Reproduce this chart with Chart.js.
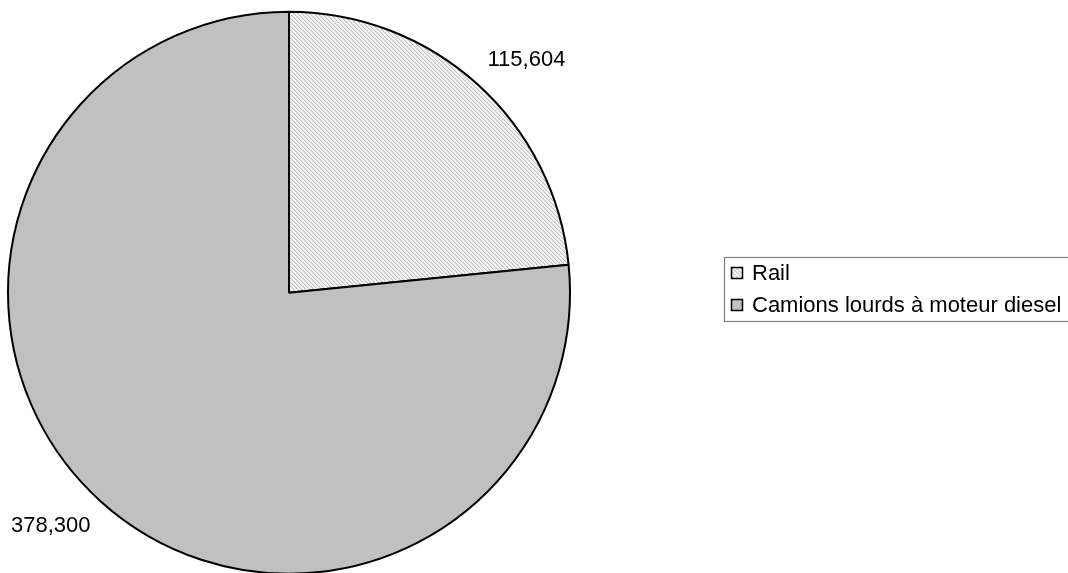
<!DOCTYPE html>
<html>
<head>
<meta charset="utf-8">
<script src="https://cdn.jsdelivr.net/npm/chart.js@4"></script>
<style>
  html, body { margin: 0; padding: 0; background: #fff; overflow: hidden; }
  #wrap { position: relative; width: 1068px; height: 600px; }
</style>
</head>
<body>
<div id="wrap"><canvas id="pieChart"></canvas></div>
<script>
const labels = ["Rail", "Camions lourds à moteur diesel"];
const values = [115604, 378300];
const valueLabels = ["115,604", "378,300"];

const FONT = "22px 'Liberation Sans', Arial, sans-serif";

// Excel style diagonal dither fill for the Rail slice
function makeHatch() {
  const c = document.createElement("canvas");
  c.width = 4;
  c.height = 4;
  const ctx = c.getContext("2d");
  for (let x = 0; x < 4; x++) {
    for (let y = 0; y < 4; y++) {
      const k = ((x - y) % 4 + 4) % 4;
      ctx.fillStyle = k === 0 ? "#c4c4c4" : k === 1 ? "#e4e4e4" : "#f6f6f6";
      ctx.fillRect(x, y, 1, 1);
    }
  }
  return c.getContext("2d").createPattern(c, "repeat");
}

const hatch = makeHatch();
const fills = [hatch, "#c0c0c0"];

const sliceLabels = {
  id: "sliceLabels",
  afterDatasetsDraw(chart) {
    const ctx = chart.ctx;
    const meta = chart.getDatasetMeta(0);
    ctx.save();
    ctx.font = FONT;
    ctx.fillStyle = "#000";
    ctx.textBaseline = "middle";
    meta.data.forEach((arc, i) => {
      const mid = (arc.startAngle + arc.endAngle) / 2;
      const ex = arc.x + Math.cos(mid) * arc.outerRadius;
      const ey = arc.y + Math.sin(mid) * arc.outerRadius;
      const right = Math.cos(mid) >= 0;
      const down = Math.sin(mid) >= 0;
      ctx.textAlign = right ? "left" : "right";
      ctx.fillText(valueLabels[i], ex + (right ? 10 : -10), ey + (down ? 25 : -24));
    });
    ctx.restore();
  }
};

const boxLegend = {
  id: "boxLegend",
  afterDraw(chart) {
    const ctx = chart.ctx;
    ctx.save();
    ctx.strokeStyle = "#808080";
    ctx.lineWidth = 1.2;
    ctx.strokeRect(724.5, 257.5, 400, 64);
    ctx.font = FONT;
    ctx.textAlign = "left";
    ctx.textBaseline = "middle";
    labels.forEach((lab, i) => {
      const y = 273 + i * 32;
      ctx.fillStyle = fills[i];
      ctx.fillRect(731, y - 6, 11, 11);
      ctx.strokeStyle = "#000";
      ctx.lineWidth = 1.5;
      ctx.strokeRect(731.5, y - 5.5, 11, 11);
      ctx.fillStyle = "#000";
      ctx.fillText(lab, 752, y + 1);
    });
    ctx.restore();
  }
};

new Chart(document.getElementById("pieChart"), {
  type: "pie",
  data: {
    labels,
    datasets: [{
      data: values,
      backgroundColor: fills,
      borderColor: "#000",
      borderWidth: 2
    }]
  },
  options: {
    responsive: true,
    maintainAspectRatio: false,
    animation: false,
    layout: { padding: { left: 7, right: 497, top: 10.5, bottom: 25 } },
    plugins: {
      legend: { display: false },
      tooltip: { enabled: false }
    }
  },
  plugins: [sliceLabels, boxLegend]
});
</script>
</body>
</html>
